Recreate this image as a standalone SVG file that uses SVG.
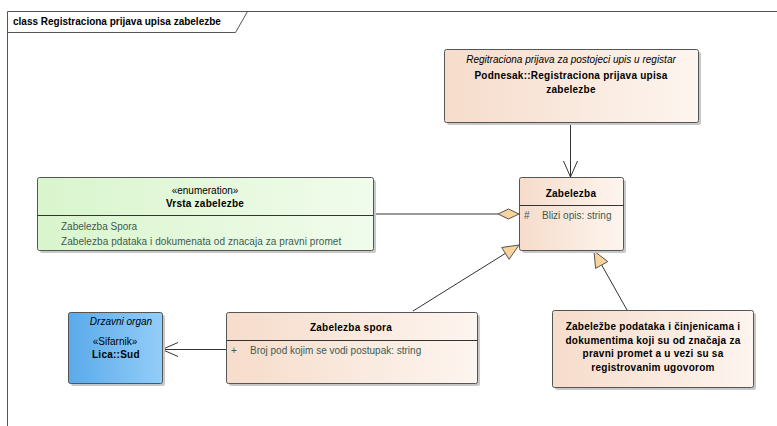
<svg xmlns="http://www.w3.org/2000/svg" width="777" height="426" viewBox="0 0 777 426">
<defs>
<linearGradient id="peach" x1="0" y1="0" x2="1" y2="0"><stop offset="0" stop-color="#f6dccb"/><stop offset="1" stop-color="#fdf5ef"/></linearGradient>
<linearGradient id="green" x1="0" y1="0" x2="1" y2="0"><stop offset="0" stop-color="#d9f5cd"/><stop offset="1" stop-color="#f1fcec"/></linearGradient>
<linearGradient id="blue" x1="0" y1="0" x2="1" y2="0"><stop offset="0" stop-color="#5aaaea"/><stop offset="1" stop-color="#93cdf8"/></linearGradient>
<marker id="open" markerWidth="18" markerHeight="16" refX="16" refY="8" orient="auto" markerUnits="userSpaceOnUse"><path d="M0,1 L16,8 L0,15" fill="none" stroke="#333" stroke-width="1"/></marker>
</defs>
<style>
.box{stroke:#555;stroke-width:1}
.sh{fill:#c8c8c8}
.t{font-family:"Liberation Sans",Arial,sans-serif;font-size:10px;fill:#000}
.b{font-weight:bold;letter-spacing:0.25px}
.i{font-style:italic}
.a{fill:#3e5a50}
.c{text-anchor:middle}
.ln{stroke:#333;stroke-width:1;fill:none}
.div{stroke:#333;stroke-width:1}
</style>
<rect width="777" height="426" fill="#fff"/>
<g id="frame">
<path d="M7.5,426 L7.5,11.5 L777,11.5" fill="none" stroke="#555"/>
<path d="M7.5,32.5 L235.5,32.5 L247.5,11.5" fill="none" stroke="#555"/>
<text x="13" y="25" class="t b" style="letter-spacing:0">class Registraciona prijava upisa zabelezbe</text>
</g>
<g id="connectors">
<line x1="570.5" y1="122" x2="570.5" y2="177" class="ln" marker-end="url(#open)"/>
<line x1="373" y1="214" x2="498" y2="214" stroke="#777" stroke-width="1.5"/>
<polygon points="519,214 508.5,209 498,214 508.5,219" fill="#f8d49c" stroke="#555"/>
<line x1="226" y1="349.5" x2="162" y2="349.5" class="ln" marker-end="url(#open)"/>
<line x1="413" y1="311" x2="505.4" y2="253.4" class="ln"/>
<polygon points="519,245 501.7,247.5 509.1,259.3" fill="#f8d49c" stroke="#555"/>
<line x1="627" y1="310" x2="601.7" y2="265" class="ln"/>
<polygon points="594,251 607.8,261.6 595.6,268.4" fill="#f8d49c" stroke="#555"/>
</g>
<g id="podnesak">
<rect x="447" y="52" width="254" height="73" rx="2" class="sh"/>
<rect x="444.5" y="49.5" width="254" height="73" rx="2" fill="url(#peach)" class="box"/>
<text x="571" y="63" class="t i c">Regitraciona prijava za postojeci upis u registar</text>
<text x="571" y="79" class="t b c">Podnesak::Registraciona prijava upisa</text>
<text x="571" y="93" class="t b c">zabelezbe</text>
</g>
<g id="zabelezba">
<rect x="522" y="180" width="104" height="73" rx="2" class="sh"/>
<rect x="519.5" y="177.5" width="104" height="73" rx="2" fill="url(#peach)" class="box"/>
<text x="571" y="197" class="t b c">Zabelezba</text>
<line x1="519.5" y1="205.5" x2="623.5" y2="205.5" class="div"/>
<text x="524" y="219" class="t a">#</text>
<text x="542" y="219" class="t a">Blizi opis: string</text>
</g>
<g id="vrsta">
<rect x="40" y="180" width="336" height="73" rx="2" class="sh"/>
<rect x="37.5" y="177.5" width="336" height="73" rx="2" fill="url(#green)" class="box"/>
<text x="205" y="194" class="t c">«enumeration»</text>
<text x="205" y="207" class="t b c">Vrsta zabelezbe</text>
<line x1="37.5" y1="215.5" x2="373.5" y2="215.5" class="div"/>
<text x="61" y="230" class="t a">Zabelezba Spora</text>
<text x="61" y="245" class="t a" style="letter-spacing:0.07px">Zabelezba pdataka i dokumenata od znacaja za pravni promet</text>
</g>
<g id="sud">
<rect x="71" y="315" width="94" height="71" rx="2" class="sh"/>
<rect x="68.5" y="312.5" width="94" height="71" rx="2" fill="url(#blue)" class="box"/>
<text x="121" y="325" class="t i c">Drzavni organ</text>
<text x="115" y="345" class="t c">«Sifarnik»</text>
<text x="92" y="358" class="t b">Lica::Sud</text>
</g>
<g id="spora">
<rect x="229" y="315" width="251" height="71" rx="2" class="sh"/>
<rect x="226.5" y="312.5" width="251" height="71" rx="2" fill="url(#peach)" class="box"/>
<text x="351" y="331" class="t b c">Zabelezba spora</text>
<line x1="226.5" y1="340.5" x2="477.5" y2="340.5" class="div"/>
<text x="231" y="354" class="t a">+</text>
<text x="250" y="354" class="t a">Broj pod kojim se vodi postupak: string</text>
</g>
<g id="podaci">
<rect x="555" y="313" width="201" height="77" rx="2" class="sh"/>
<rect x="552.5" y="310.5" width="201" height="77" rx="2" fill="url(#peach)" class="box"/>
<text x="653" y="330" class="t b c">Zabeležbe podataka i činjenicama i</text>
<text x="653" y="344" class="t b c">dokumentima koji su od značaja za</text>
<text x="653" y="357" class="t b c">pravni promet a u vezi su sa</text>
<text x="653" y="371" class="t b c">registrovanim ugovorom</text>
</g>
</svg>
